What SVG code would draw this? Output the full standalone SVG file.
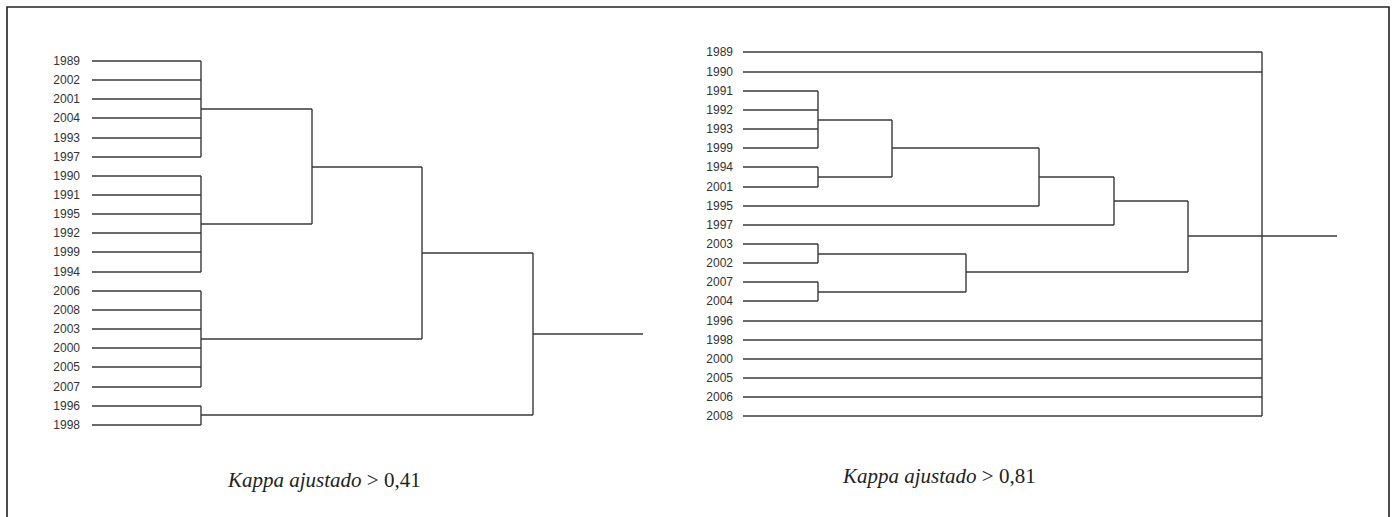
<svg xmlns="http://www.w3.org/2000/svg" width="1392" height="517" viewBox="0 0 1392 517">
<style>
.lbl{font-family:"Liberation Sans",Arial,sans-serif;font-size:12px;fill:#333;text-anchor:end}
.ln{fill:none;stroke:#3a3a3a;stroke-width:1.4}
.cap{font-family:"Liberation Serif","Times New Roman",serif;font-size:21px;fill:#222}
.frame{fill:none;stroke:#222;stroke-width:1.6}
</style>
<rect width="1392" height="517" fill="#fff"/>
<path class="frame" d="M7,520 V7 H1389 V520"/>

<g id="left-leaves">
<g id="L1989"><text class="lbl" x="80" y="65">1989</text></g>
<g id="L2002"><text class="lbl" x="80" y="84">2002</text></g>
<g id="L2001"><text class="lbl" x="80" y="103">2001</text></g>
<g id="L2004"><text class="lbl" x="80" y="122">2004</text></g>
<g id="L1993"><text class="lbl" x="80" y="142">1993</text></g>
<g id="L1997"><text class="lbl" x="80" y="161">1997</text></g>
<g id="L1990"><text class="lbl" x="80" y="180">1990</text></g>
<g id="L1991"><text class="lbl" x="80" y="199">1991</text></g>
<g id="L1995"><text class="lbl" x="80" y="218">1995</text></g>
<g id="L1992"><text class="lbl" x="80" y="237">1992</text></g>
<g id="L1999"><text class="lbl" x="80" y="256">1999</text></g>
<g id="L1994"><text class="lbl" x="80" y="276">1994</text></g>
<g id="L2006"><text class="lbl" x="80" y="295">2006</text></g>
<g id="L2008"><text class="lbl" x="80" y="314">2008</text></g>
<g id="L2003"><text class="lbl" x="80" y="333">2003</text></g>
<g id="L2000"><text class="lbl" x="80" y="352">2000</text></g>
<g id="L2005"><text class="lbl" x="80" y="371">2005</text></g>
<g id="L2007"><text class="lbl" x="80" y="391">2007</text></g>
<g id="L1996"><text class="lbl" x="80" y="410">1996</text></g>
<g id="L1998"><text class="lbl" x="80" y="429">1998</text></g>
</g>

<g id="right-leaves">
<g id="R1989"><text class="lbl" x="733" y="56">1989</text></g>
<g id="R1990"><text class="lbl" x="733" y="76">1990</text></g>
<g id="R1991"><text class="lbl" x="733" y="95">1991</text></g>
<g id="R1992"><text class="lbl" x="733" y="114">1992</text></g>
<g id="R1993"><text class="lbl" x="733" y="133">1993</text></g>
<g id="R1999"><text class="lbl" x="733" y="152">1999</text></g>
<g id="R1994"><text class="lbl" x="733" y="171">1994</text></g>
<g id="R2001"><text class="lbl" x="733" y="191">2001</text></g>
<g id="R1995"><text class="lbl" x="733" y="210">1995</text></g>
<g id="R1997"><text class="lbl" x="733" y="229">1997</text></g>
<g id="R2003"><text class="lbl" x="733" y="248">2003</text></g>
<g id="R2002"><text class="lbl" x="733" y="267">2002</text></g>
<g id="R2007"><text class="lbl" x="733" y="286">2007</text></g>
<g id="R2004"><text class="lbl" x="733" y="305">2004</text></g>
<g id="R1996"><text class="lbl" x="733" y="325">1996</text></g>
<g id="R1998"><text class="lbl" x="733" y="344">1998</text></g>
<g id="R2000"><text class="lbl" x="733" y="363">2000</text></g>
<g id="R2005"><text class="lbl" x="733" y="382">2005</text></g>
<g id="R2006"><text class="lbl" x="733" y="401">2006</text></g>
<g id="R2008"><text class="lbl" x="733" y="420">2008</text></g>
</g>

<g id="connectors">
<!-- left dendrogram leaves -->
<path class="ln" d="M92,61H201M92,80H201M92,99H201M92,118H201M92,138H201M92,157H201M201,61V157"/>
<path class="ln" d="M92,176H201M92,195H201M92,214H201M92,233H201M92,252H201M92,272H201M201,176V272"/>
<path class="ln" d="M92,291H201M92,310H201M92,329H201M92,348H201M92,367H201M92,387H201M201,291V387"/>
<path class="ln" d="M92,406H201M92,425H201M201,406V425"/>
<path class="ln" d="M201,109H312M201,224H312M312,109V224"/>
<path class="ln" d="M312,167H422M201,339H422M422,167V339"/>
<path class="ln" d="M422,253H533M201,415H533M533,253V415M533,334H643"/>
<!-- right dendrogram -->
<path class="ln" d="M743,52H1262M743,72H1262M743,321H1262M743,340H1262M743,359H1262M743,378H1262M743,397H1262M743,416H1262M1262,52V416"/>
<path class="ln" d="M743,91H818M743,110H818M743,129H818M743,148H818M818,91V148"/>
<path class="ln" d="M743,167H818M743,187H818M818,167V187"/>
<path class="ln" d="M818,120H892M818,177H892M892,120V177"/>
<path class="ln" d="M892,148H1039M743,206H1039M1039,148V206"/>
<path class="ln" d="M1039,177H1114M743,225H1114M1114,177V225"/>
<path class="ln" d="M743,244H818M743,263H818M818,244V263"/>
<path class="ln" d="M743,282H818M743,301H818M818,282V301"/>
<path class="ln" d="M818,254H966M818,292H966M966,254V292"/>
<path class="ln" d="M1114,201H1188M966,272H1188M1188,201V272M1188,236H1337"/>
</g>

<g id="captions">
<text class="cap" x="228" y="487"><tspan font-style="italic">Kappa ajustado</tspan> &gt; 0,41</text>
<text class="cap" x="843" y="483"><tspan font-style="italic">Kappa ajustado</tspan> &gt; 0,81</text>
</g>
</svg>
